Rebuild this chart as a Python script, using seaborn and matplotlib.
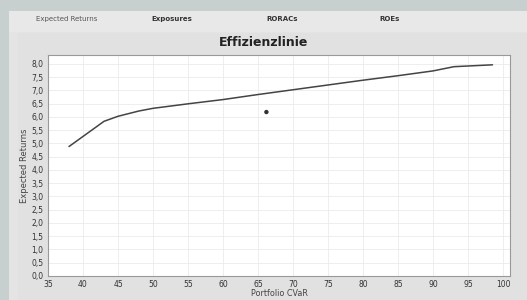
import numpy as np
import pandas as pd
import matplotlib
matplotlib.use("Agg")
import matplotlib.pyplot as plt
import seaborn as sns
from matplotlib.patches import Rectangle
from matplotlib.ticker import FuncFormatter, MultipleLocator

# efficient frontier (Portfolio CVaR vs. Expected Returns)
cvar = [38.0, 43.0, 45.0, 48.0, 50.0, 55.0, 60.0, 65.0, 70.0, 75.0, 80.0, 85.0, 90.0, 93.0, 98.5]
returns = [4.88, 5.83, 6.02, 6.22, 6.32, 6.49, 6.65, 6.84, 7.02, 7.20, 7.38, 7.55, 7.73, 7.89, 7.96]
# current portfolio
point_cvar = [66.2]
point_ret = [6.18]

tabs = ["Expected Returns", "Exposures", "RORACs", "ROEs"]
tab_x = [67, 172, 282, 390]

sns.set_style("whitegrid")
plt.rcParams['font.family'] = ['DejaVu Sans']

fig = plt.figure(figsize=(5.27, 3.0), dpi=100)
fig.patch.set_facecolor("#c8d0cf")
W, H = 527, 300
# panel backgrounds
fig.patches.append(Rectangle((9 / W, 0), 1, (H - 11) / H, transform=fig.transFigure,
                             facecolor="#e4e4e4", edgecolor="none", zorder=-10))
fig.patches.append(Rectangle((9 / W, (H - 32) / H), 1, 21 / H, transform=fig.transFigure,
                             facecolor="#e8e8e8", edgecolor="none", zorder=-10))
fig.patches.append(Rectangle((18 / W, 0), 1, (H - 33) / H, transform=fig.transFigure,
                             facecolor="#e1e1e1", edgecolor="none", zorder=-10))

for i, (t, x) in enumerate(zip(tabs, tab_x)):
    fig.text(x / W, (H - 19) / H, t, ha="center", va="center", fontsize=5,
             color="#555555" if i == 0 else "#333333",
             fontweight="normal" if i == 0 else "bold")

fig.text(0.5, (H - 42) / H, "Effizienzlinie", ha="center", va="center",
         fontsize=9, fontweight="bold", color="#222222")

ax = fig.add_axes([48 / W, 24 / H, 462 / W, 221 / H])
ax.set_facecolor("white")

df = pd.DataFrame({"cvar": cvar, "ret": returns})
sns.lineplot(data=df, x="cvar", y="ret", ax=ax, color="#444444", linewidth=1.1)
sns.scatterplot(x=point_cvar, y=point_ret, ax=ax, color="#333333", s=10, marker="o",
                edgecolor="none")

ax.set_xlim(35, 101)
ax.set_ylim(0, 8.33)
ax.xaxis.set_major_locator(MultipleLocator(5))
ax.yaxis.set_major_locator(MultipleLocator(0.5))
ax.yaxis.set_major_formatter(FuncFormatter(lambda v, p: f"{v:.1f}".replace(".", ",")))
ax.grid(True, color="#ebebeb", linewidth=0.6)
ax.tick_params(axis="both", labelsize=5.5, colors="#333333", length=2, pad=1.2)
ax.tick_params(axis="both", color="#999999")
for s in ax.spines.values():
    s.set_color("#999999")
    s.set_linewidth(0.8)
ax.set_xlabel("Portfolio CVaR", fontsize=5.8, color="#444444", labelpad=0)
ax.set_ylabel("Expected Returns", fontsize=6, color="#444444", labelpad=2)

fig.savefig("out.png", dpi=100, facecolor=fig.get_facecolor())
